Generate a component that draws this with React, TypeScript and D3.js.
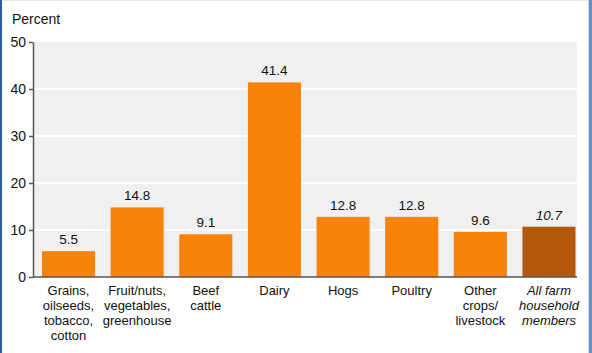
import React, { useRef, useEffect } from 'react';
import * as d3 from 'd3';

const categories = [
  'Grains,|oilseeds,|tobacco,|cotton',
  'Fruit/nuts,|vegetables,|greenhouse',
  'Beef|cattle',
  'Dairy',
  'Hogs',
  'Poultry',
  'Other|crops/|livestock',
  'All farm|household|members',
];
const values = [5.5, 14.8, 9.1, 41.4, 12.8, 12.8, 9.6, 10.7];
const yTicks = [0, 10, 20, 30, 40, 50];

const width = 592;
const height = 353;

const App: React.FC = () => {
  const svgRef = useRef<SVGSVGElement>(null);

  useEffect(() => {
    if (!svgRef.current) return;
    const svg = d3.select(svgRef.current);
    svg.selectAll('*').remove();

    const margin = { top: 42, right: 15, bottom: 76, left: 33 };
    const innerWidth = width - margin.left - margin.right;
    const innerHeight = height - margin.top - margin.bottom;
    const font = 'Arial, "Liberation Sans", sans-serif';

    svg.append('rect').attr('width', width).attr('height', height).attr('fill', '#ffffff');

    const g = svg.append('g').attr('transform', `translate(${margin.left},${margin.top})`);

    const x = d3.scaleBand<number>()
      .domain(values.map((_, i) => i))
      .range([9, 542.5])
      .paddingInner(0.227)
      .paddingOuter(0);

    const y = d3.scaleLinear().domain([0, 50]).range([innerHeight, 0]);

    // plot background
    g.append('rect')
      .attr('x', 1)
      .attr('y', 0)
      .attr('width', innerWidth - 1)
      .attr('height', innerHeight)
      .attr('fill', '#f0f0f0');

    // grid lines
    g.selectAll('.grid')
      .data(yTicks.slice(1, -1))
      .enter()
      .append('line')
      .attr('x1', 1)
      .attr('x2', innerWidth)
      .attr('y1', d => y(d))
      .attr('y2', d => y(d))
      .attr('stroke', '#ffffff')
      .attr('stroke-width', 2);

    // bars
    g.selectAll('.bar')
      .data(values)
      .enter()
      .append('rect')
      .attr('x', (_, i) => x(i)!)
      .attr('y', d => y(d))
      .attr('width', x.bandwidth())
      .attr('height', d => innerHeight - y(d))
      .attr('fill', (_, i) => (i === values.length - 1 ? '#b3580c' : '#f7830a'));

    // value labels
    g.selectAll('.val')
      .data(values)
      .enter()
      .append('text')
      .attr('x', (_, i) => x(i)! + x.bandwidth() / 2)
      .attr('y', d => y(d) - 7)
      .attr('text-anchor', 'middle')
      .style('font-family', font)
      .style('font-size', '13.5px')
      .style('font-style', (_, i) => (i === values.length - 1 ? 'italic' : 'normal'))
      .attr('fill', '#111111')
      .text(d => d.toFixed(1));

    // y axis
    const yAxis = d3.axisLeft(y).tickValues(yTicks).tickSize(4).tickSizeOuter(0).tickPadding(3);
    const ya = g.append('g').call(yAxis);
    ya.select('.domain').attr('stroke', '#555555').attr('stroke-width', 1.5);
    ya.selectAll('.tick line').attr('stroke', '#555555').attr('stroke-width', 1.5);
    ya.selectAll('.tick text')
      .style('font-family', font)
      .style('font-size', '14px')
      .attr('fill', '#111111');

    // x axis line
    g.append('line')
      .attr('x1', 0)
      .attr('x2', innerWidth)
      .attr('y1', innerHeight)
      .attr('y2', innerHeight)
      .attr('stroke', '#555555')
      .attr('stroke-width', 1.5);

    // category labels
    categories.forEach((c, i) => {
      const t = g.append('text')
        .attr('x', x(i)! + x.bandwidth() / 2)
        .attr('y', innerHeight + 18)
        .attr('text-anchor', 'middle')
        .style('font-family', font)
        .style('font-size', '13px')
        .style('font-style', i === categories.length - 1 ? 'italic' : 'normal')
        .attr('fill', '#111111');
      c.split('|').forEach((line, j) => {
        t.append('tspan')
          .attr('x', x(i)! + x.bandwidth() / 2)
          .attr('dy', j === 0 ? 0 : 15)
          .text(line);
      });
    });

    // y title
    svg.append('text')
      .attr('x', 12)
      .attr('y', 24)
      .style('font-family', font)
      .style('font-size', '14px')
      .attr('fill', '#111111')
      .text('Percent');

    // frame
    svg.append('line').attr('x1', 0).attr('x2', width).attr('y1', 0.5).attr('y2', 0.5).attr('stroke', '#e6e6e6');
    svg.append('rect').attr('x', 0).attr('y', 0).attr('width', 2).attr('height', height).attr('fill', '#2b5c9c');
    svg.append('rect').attr('x', 588).attr('y', 0).attr('width', 1).attr('height', height).attr('fill', '#c9d6e6');
    svg.append('rect').attr('x', 589).attr('y', 0).attr('width', 3).attr('height', height).attr('fill', '#6a8fc0');
  }, []);

  return (
    <svg
      ref={svgRef}
      width={width}
      height={height}
      style={{ position: 'absolute', left: 0, top: 0, display: 'block' }}
    />
  );
};

export default App;
